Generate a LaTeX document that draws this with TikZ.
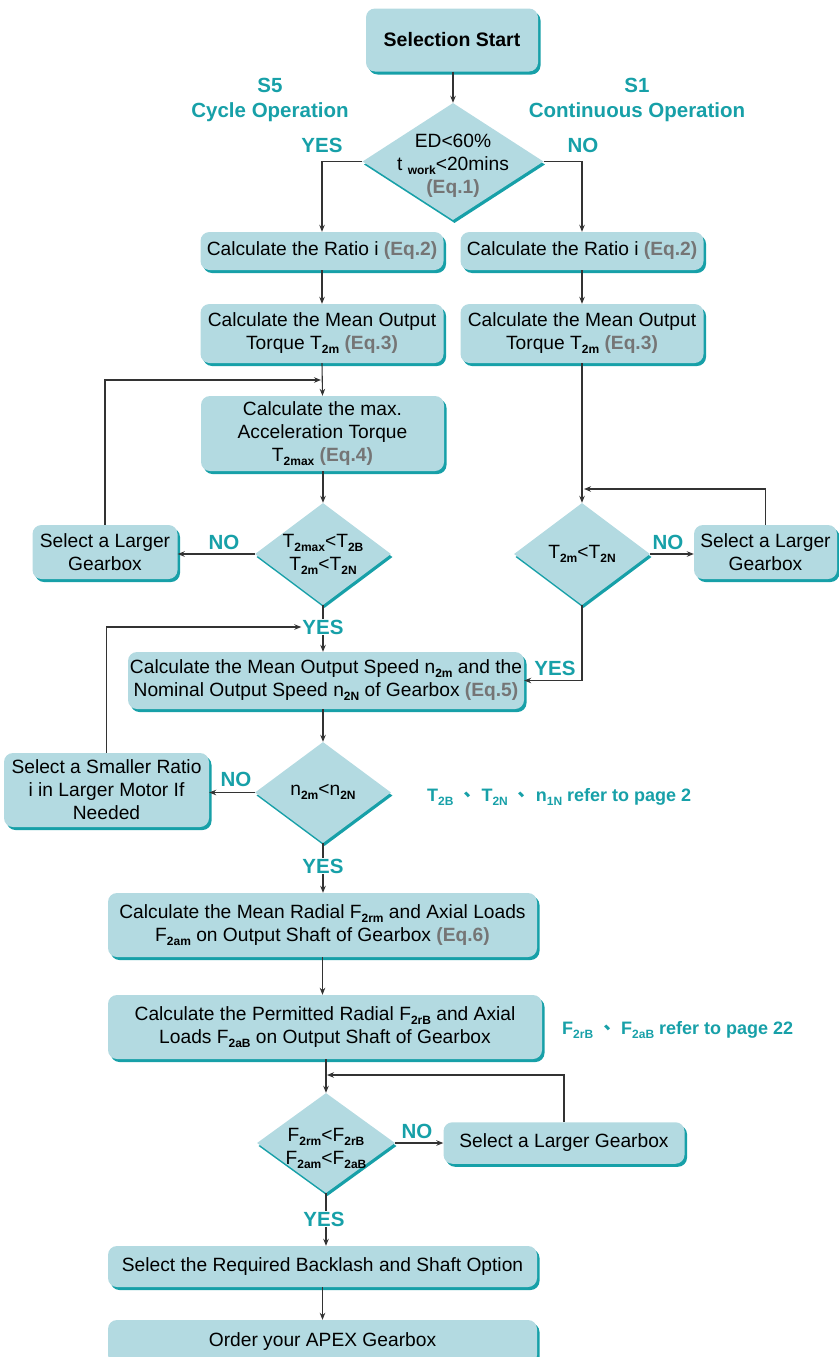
\documentclass[tikz,border=0pt]{standalone}
\usepackage{fontspec}
\setmainfont{Liberation Sans}
\newfontfamily\cjkfont{Noto Sans CJK TC}
\usetikzlibrary{shapes.geometric,shadows,arrows.meta}
\definecolor{boxfill}{HTML}{B3DAE1}
\definecolor{shadowc}{HTML}{17A0A8}
\definecolor{tealtxt}{HTML}{17A0A8}
\definecolor{eqgray}{HTML}{757575}
\definecolor{linec}{HTML}{333333}
\newcommand{\sbs}[1]{\raisebox{-4pt}{\fontsize{12}{12}\selectfont\bfseries #1}}
\newcommand{\eqn}[1]{{\bfseries\color{eqgray}(Eq.#1)}}
\begin{document}
\begin{tikzpicture}[x=1pt,y=-1pt,
  box/.style={rectangle, rounded corners=9pt, fill=boxfill, inner sep=0pt, align=center,
    font=\fontsize{19.2}{23}\selectfont,
    drop shadow={shadow xshift=2.5pt, shadow yshift=-3pt, fill=shadowc, opacity=1}},
  dia/.style={diamond, fill=boxfill, inner sep=0pt,
    drop shadow={shadow xshift=1.5pt, shadow yshift=-3pt, fill=shadowc, opacity=1}},
  dtext/.style={align=center, font=\fontsize{19.2}{23}\selectfont, inner sep=0pt},
  lab/.style={font=\fontsize{20.5}{25}\selectfont\bfseries, text=tealtxt, inner sep=1pt, align=center},
  note/.style={font=\fontsize{18}{22}\selectfont\bfseries, text=tealtxt, inner sep=0pt, anchor=west},
  arr/.style={draw=linec, line width=1.1pt, -{Stealth[length=7pt,width=5.5pt]}},
  ln/.style={draw=linec, line width=1.1pt}
]
\useasboundingbox (0,0) rectangle (838,1357);

% nodes
\node[box, minimum width=172pt, minimum height=63pt, font=\fontsize{19.5}{23}\selectfont\bfseries] (start) at (452,40) {Selection Start};
\node[lab] (s5) at (270,100) {S5\\Cycle Operation};
\node[lab] (s1) at (637,100) {S1\\Continuous Operation};

\node[dia, minimum width=181pt, minimum height=117pt] (d1) at (453,161.5) {};
\node[dtext] (d1t) at (453,166) {ED<60\%\\t \sbs{work}<20mins\\\eqn{1}};
\node[lab] (yes1) at (322,145) {YES};
\node[lab] (no1) at (583,145) {NO};

\node[box, minimum width=243pt, minimum height=38pt] (a1) at (322,251) {Calculate the Ratio i \eqn{2}};
\node[box, minimum width=243pt, minimum height=38pt] (b1) at (582,251) {Calculate the Ratio i \eqn{2}};
\node[box, minimum width=243pt, minimum height=59pt] (a2) at (322,333.5) {Calculate the Mean Output\\Torque T\sbs{2m} \eqn{3}};
\node[box, minimum width=243pt, minimum height=59pt] (b2) at (582,333.5) {Calculate the Mean Output\\Torque T\sbs{2m} \eqn{3}};
\node[box, minimum width=243pt, minimum height=75pt] (a3) at (322.5,433.5) {Calculate the max.\\Acceleration Torque\\T\sbs{2max} \eqn{4}};

\node[dia, minimum width=136pt, minimum height=102pt] (d2) at (323,554) {};
\node[dtext] (d2t) at (323,554) {T\sbs{2max}<T\sbs{2B}\\T\sbs{2m}<T\sbs{2N}};
\node[box, minimum width=145pt, minimum height=54pt] (lg1) at (105,552) {Select a Larger\\Gearbox};
\node[lab] (no2) at (224,542) {NO};

\node[dia, minimum width=136pt, minimum height=102pt] (d3) at (582,554) {};
\node[dtext] (d3t) at (582,554) {T\sbs{2m}<T\sbs{2N}};
\node[box, minimum width=143pt, minimum height=54pt] (lg2) at (765.5,552) {Select a Larger\\Gearbox};
\node[lab] (no3) at (668,542) {NO};

\node[lab] (yes2) at (323,627) {YES};
\node[box, minimum width=396pt, minimum height=57pt] (c) at (326,680.5) {Calculate the Mean Output Speed n\sbs{2m} and the\\Nominal Output Speed n\sbs{2N} of Gearbox \eqn{5}};
\node[lab] (yes3) at (555,668) {YES};

\node[dia, minimum width=136pt, minimum height=101pt] (d4) at (323,792.5) {};
\node[dtext] (d4t) at (323,792) {n\sbs{2m}<n\sbs{2N}};
\node[box, minimum width=205pt, minimum height=74pt] (sr) at (106.5,790) {Select a Smaller Ratio\\i in Larger Motor If\\Needed};
\node[lab] (no4) at (236,779) {NO};
\node[note] (note1) at (427,797) {T\sbs{2B} {\cjkfont 、} T\sbs{2N} {\cjkfont 、} n\sbs{1N} refer to page 2};
\node[lab] (yes4) at (323,866) {YES};

\node[box, minimum width=429pt, minimum height=64pt] (d) at (322.5,925) {Calculate the Mean Radial F\sbs{2rm} and Axial Loads\\F\sbs{2am} on Output Shaft of Gearbox \eqn{6}};
\node[box, minimum width=434pt, minimum height=64pt] (e) at (325,1027) {Calculate the Permitted Radial F\sbs{2rB} and Axial\\Loads F\sbs{2aB} on Output Shaft of Gearbox};
\node[note] (note2) at (562,1030) {F\sbs{2rB} {\cjkfont 、} F\sbs{2aB} refer to page 22};

\node[dia, minimum width=138pt, minimum height=100pt] (d5) at (326,1143) {};
\node[dtext] (d5t) at (326,1148) {F\sbs{2rm}<F\sbs{2rB}\\F\sbs{2am}<F\sbs{2aB}};
\node[lab] (no5) at (417,1131) {NO};
\node[box, minimum width=241pt, minimum height=41.5pt] (lg3) at (564,1143) {Select a Larger Gearbox};
\node[lab] (yes5) at (324,1219) {YES};

\node[box, minimum width=429pt, minimum height=41pt] (f) at (322.5,1266.5) {Select the Required Backlash and Shaft Option};
\node[box, minimum width=429pt, minimum height=44pt] (g) at (322.5,1342) {Order your APEX Gearbox};

% connectors
\draw[arr] (d1.north |- start.south) -- (d1.north);
\draw[arr] (d1.west) -| (a1.north);
\draw[arr] (d1.east) -| (b1.north);
\draw[arr] (a1.south) -- (a2.north);
\draw[arr] (b1.south) -- (b2.north);
\draw[arr] (a2.south) -- (a3.north);
\draw[arr] (d2.north |- a3.south) -- (d2.north);
\draw[arr] (d2.west) -- (d2.west -| lg1.east);
\coordinate (fb1) at (321,380);
\draw[arr] (lg1.north) |- (fb1);
\draw[ln] (d2.south) -- (d2.south |- yes2.north);
\draw[arr] (d2.south |- yes2.south) -- (d2.south |- c.north);
\draw[arr] (sr.north) |- (yes2.west);
\draw[arr] (b2.south) -- (d3.north);
\coordinate (fb2) at (584,489);
\draw[arr] (lg2.north) |- (fb2);
\draw[arr] (d3.east) -- (d3.east -| lg2.west);
\draw[arr] (d3.south) |- (c.east);
\draw[arr] (d4.north |- c.south) -- (d4.north);
\draw[arr] (d4.west) -- (d4.west -| sr.east);
\draw[ln] (d4.south) -- (d4.south |- yes4.north);
\draw[arr] (d4.south |- yes4.south) -- (d4.south |- d.north);
\draw[arr] (d.south) -- (d.south |- e.north);
\draw[arr] (d5.north |- e.south) -- (d5.north);
\coordinate (fb3) at (327,1075);
\draw[arr] (lg3.north) |- (fb3);
\draw[arr] (d5.east) -- (lg3.west);
\draw[ln] (d5.south) -- (d5.south |- yes5.north);
\draw[arr] (d5.south |- yes5.south) -- (d5.south |- f.north);
\draw[arr] (f.south) -- (f.south |- g.north);
\end{tikzpicture}
\end{document}
